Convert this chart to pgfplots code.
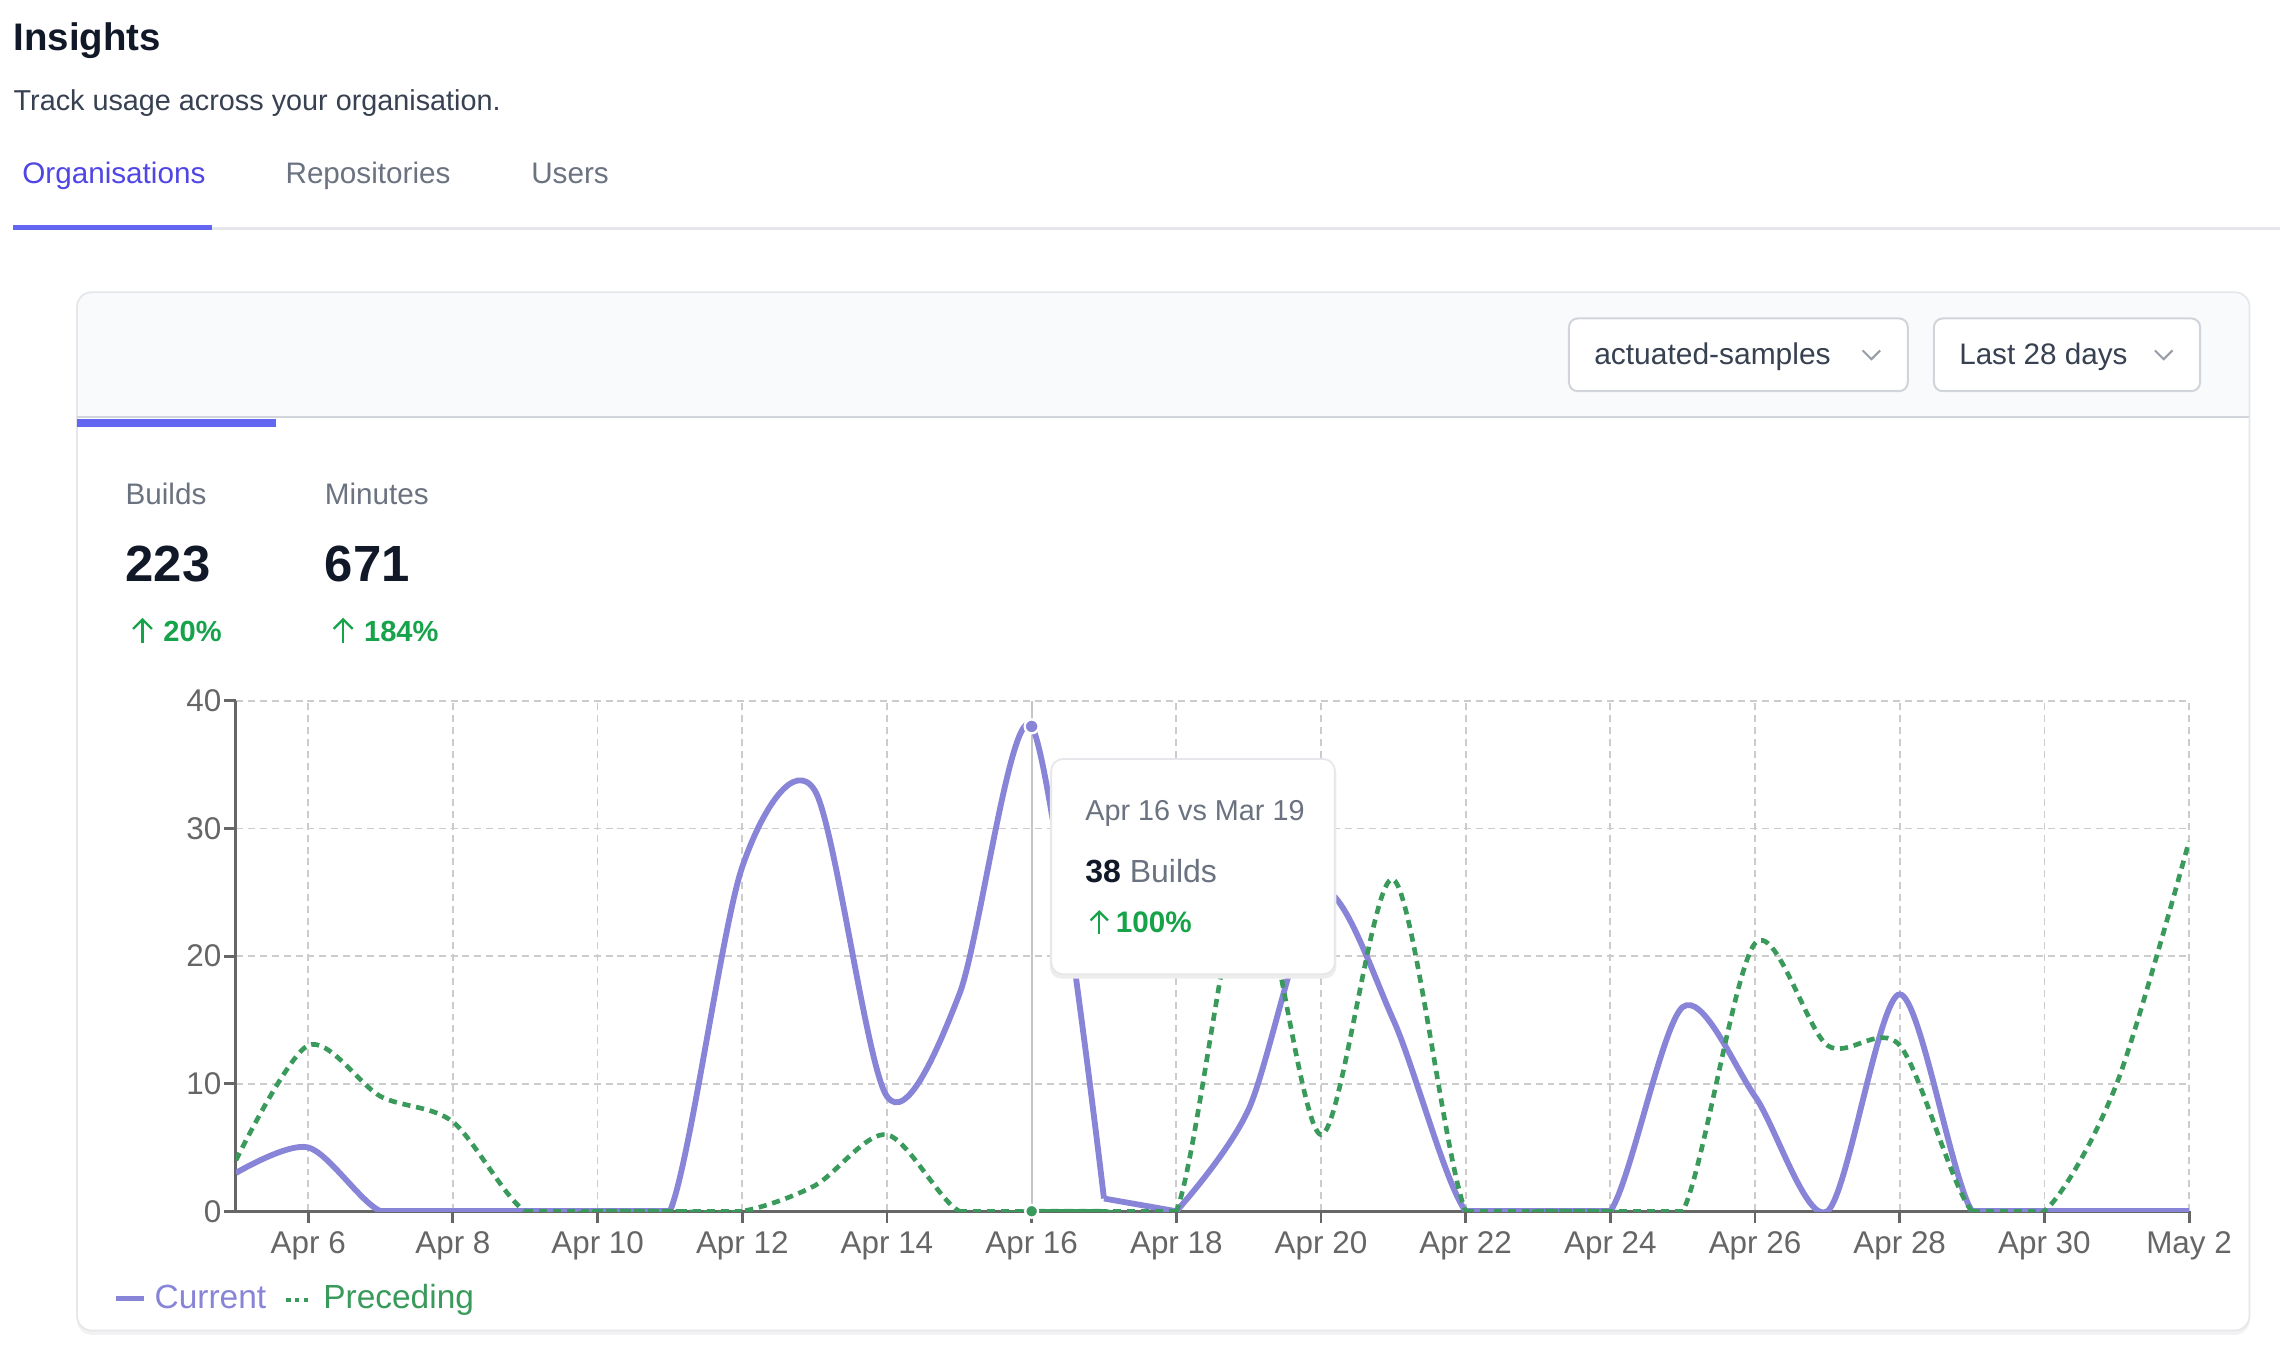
\documentclass[border=0pt]{standalone}
\usepackage{pgfplots}
\usepackage{pgfplotstable}
\pgfplotsset{compat=1.18}
\usepackage{fontspec}
\setmainfont{Liberation Sans}

\definecolor{ink}{HTML}{111827}
\definecolor{body}{HTML}{374151}
\definecolor{muted}{HTML}{6B7280}
\definecolor{indigo}{HTML}{4F46E5}
\definecolor{indbar}{HTML}{6366F1}
\definecolor{line}{HTML}{E5E7EB}
\definecolor{line2}{HTML}{D1D5DB}
\definecolor{headbg}{HTML}{F9FAFB}
\definecolor{up}{HTML}{16A34A}
\definecolor{cur}{HTML}{8884D8}
\definecolor{pre}{HTML}{3A9A5B}
\definecolor{axisgray}{HTML}{666666}
\definecolor{gridgray}{HTML}{CCCCCC}

\newcommand\fs[1]{\fontsize{#1}{#1}\selectfont}

% day 0 = Apr 5 ... day 27 = May 2
\pgfplotstableread{
d v
0 3
1 5
2 0
3 0
4 0
5 0
6 0
7 27
8 33
9 9
10 17
11 38
12 1
13 0
14 8
15 25
16 15
17 0
18 0
19 0
20 16
21 9
22 0
23 17
24 0
25 0
26 0
27 0
}\current

\pgfplotstableread{
d v
0 4
1 13
2 9
3 7
4 0
5 0
6 0
7 0
8 2
9 6
10 0
11 0
12 0
13 0
14 27
15 6
16 26
17 0
18 0
19 0
20 0
21 21
22 13
23 13
24 0
25 0
26 10
27 29
}\preceding

\begin{document}
\begin{tikzpicture}
\begin{scope}[x=0.5pt,y=-0.5pt,shift={(0pt,463.5pt)}]
  \path[use as bounding box, fill=white] (0,0) rectangle (1568,927);
  % page header
  \node[anchor=base west, inner sep=0, text=ink, font=\fs{13.2}\bfseries] at (9,35) {Insights};
  \node[anchor=base west, inner sep=0, text=body, font=\fs{9.9}] at (9,76) {Track usage across your organisation.};
  \node[anchor=base west, inner sep=0, text=indigo, font=\fs{10.2}] at (15,126) {Organisations};
  \node[anchor=base west, inner sep=0, text=muted, font=\fs{10.2}] at (196,126) {Repositories};
  \node[anchor=base west, inner sep=0, text=muted, font=\fs{10.2}] at (365,126) {Users};
  \fill[line] (9,156) rectangle (1568,158);
  \fill[indbar] (9,154.5) rectangle (146,158);
  % card
  \fill[black!5, rounded corners=5pt] (53,203) rectangle (1547,918);
  \fill[white, rounded corners=5pt] (53,201) rectangle (1547,915);
  \begin{scope}
    \clip[rounded corners=5pt] (53,201) rectangle (1547,915);
    \fill[headbg] (53,201) rectangle (1547,287);
  \end{scope}
  \draw[line, line width=0.6pt, rounded corners=5pt] (53,201) rectangle (1547,915);
  \draw[line2, line width=0.8pt] (53,287) -- (1547,287);
  \fill[indbar] (53,288) rectangle (190,293.5);
  % dropdowns
  \filldraw[fill=white, draw=line2, line width=0.7pt, rounded corners=3pt] (1079,219) rectangle (1312,269);
  \node[anchor=base west, inner sep=0, text=body, font=\fs{10.3}] at (1096,251) {actuated-samples};
  \draw[muted!70, line width=0.7pt] (1281,241) -- (1287,247) -- (1293,241);
  \filldraw[fill=white, draw=line2, line width=0.7pt, rounded corners=3pt] (1330,219) rectangle (1513,269);
  \node[anchor=base west, inner sep=0, text=body, font=\fs{10.2}] at (1347,251) {Last 28 days};
  \draw[muted!70, line width=0.7pt] (1482,241) -- (1488,247) -- (1494,241);
  % stats
  \node[anchor=base west, inner sep=0, text=muted, font=\fs{10.2}] at (86,347) {Builds};
  \node[anchor=base west, inner sep=0, text=ink, font=\fs{17.5}\bfseries] at (86,400) {223};
  \draw[up, line width=0.8pt] (98,442) -- (98,426);
  \draw[up, line width=0.8pt] (91.5,432.5) -- (98,426) -- (104.5,432.5);
  \node[anchor=base west, inner sep=0, text=up, font=\fs{10}\bfseries] at (112,441) {20\%};
  \node[anchor=base west, inner sep=0, text=muted, font=\fs{10.2}] at (223,347) {Minutes};
  \node[anchor=base west, inner sep=0, text=ink, font=\fs{17.5}\bfseries] at (223,400) {671};
  \draw[up, line width=0.8pt] (236,442) -- (236,426);
  \draw[up, line width=0.8pt] (229.5,432.5) -- (236,426) -- (242.5,432.5);
  \node[anchor=base west, inner sep=0, text=up, font=\fs{10}\bfseries] at (250,441) {184\%};
  % legend
  \draw[cur, line width=1.5pt] (80,893) -- (99,893);
  \node[anchor=base west, inner sep=0, text=cur, font=\fs{11.5}] at (106,900) {Current};
  \draw[pre, line width=1.4pt, dash pattern=on 1.4pt off 1.6pt] (197,894) -- (214,894);
  \node[anchor=base west, inner sep=0, text=pre, font=\fs{11.5}] at (222,900) {Preceding};
\end{scope}

\begin{axis}[
  at={(81.125pt,47pt)}, anchor=south west,
  scale only axis, width=671.6pt, height=175.5pt,
  xmin=0, xmax=27, ymin=0, ymax=40,
  axis x line=bottom, axis y line=left,
  axis line style={axisgray, line width=1pt, -},
  xtick={1,3,...,27},
  xticklabels={Apr 6,Apr 8,Apr 10,Apr 12,Apr 14,Apr 16,Apr 18,Apr 20,Apr 22,Apr 24,Apr 26,Apr 28,Apr 30,May 2},
  ytick={0,10,20,30,40},
  tick align=outside, major tick length=4pt,
  tick style={axisgray, line width=1pt},
  grid=major,
  grid style={gridgray, line width=0.6pt, dash pattern=on 2.4pt off 1.7pt},
  ticklabel style={font=\fs{10.8}, text=axisgray},
  yticklabel style={xshift=2.5pt},
  xticklabel style={yshift=0.5pt},
  /pgf/number format/assume math mode=true,
]
  \addplot[gray!45, line width=0.7pt] coordinates {(11,0) (11,40)};
  % current: smooth pieces, the Apr 17-18 tail, and its runs of zeros
  \addplot[cur, line width=2pt, smooth, tension=0.5, restrict x to domain=0:12] table[x=d, y=v] {\current};
  \addplot[cur, line width=2pt, restrict x to domain=12:13] table[x=d, y=v] {\current};
  \addplot[cur, line width=2pt, smooth, tension=0.5, restrict x to domain=13:27] table[x=d, y=v] {\current};
  \addplot[cur, line width=2pt, restrict y to domain=-0.01:0.01, unbounded coords=jump] table[x=d, y=v] {\current};
  % preceding
  \addplot[pre, line width=1.6pt, dash pattern=on 2.8pt off 2pt, smooth, tension=0.5] table[x=d, y=v] {\preceding};
  \addplot[pre, line width=1.6pt, dash pattern=on 2.8pt off 2pt, restrict y to domain=-0.01:0.01, unbounded coords=jump] table[x=d, y=v] {\preceding};
  \addplot[only marks, mark=*, mark size=2.4pt, mark options={fill=cur, draw=white, line width=0.8pt}] coordinates {(11,38)};
  \addplot[only marks, mark=*, mark size=2.2pt, mark options={fill=pre, draw=white, line width=0.8pt}] coordinates {(11,0)};
\end{axis}

\begin{scope}[x=0.5pt,y=-0.5pt,shift={(0pt,463.5pt)}]
  % tooltip
  \fill[black!7, rounded corners=4pt] (722,524) rectangle (919,673);
  \filldraw[fill=white, draw=line, line width=0.6pt, rounded corners=4pt] (723,522) rectangle (918,670);
  \node[anchor=base west, inner sep=0, text=muted, font=\fs{9.9}] at (746,564) {Apr 16 vs Mar 19};
  \node[anchor=base west, inner sep=0, font=\fs{11}] at (746,607) {\textcolor{ink}{\bfseries 38} \textcolor{muted}{Builds}};
  \draw[up, line width=0.8pt] (756,642) -- (756,627);
  \draw[up, line width=0.8pt] (750,633) -- (756,627) -- (762,633);
  \node[anchor=base west, inner sep=0, text=up, font=\fs{10.2}\bfseries] at (767,641) {100\%};
\end{scope}
\end{tikzpicture}
\end{document}
